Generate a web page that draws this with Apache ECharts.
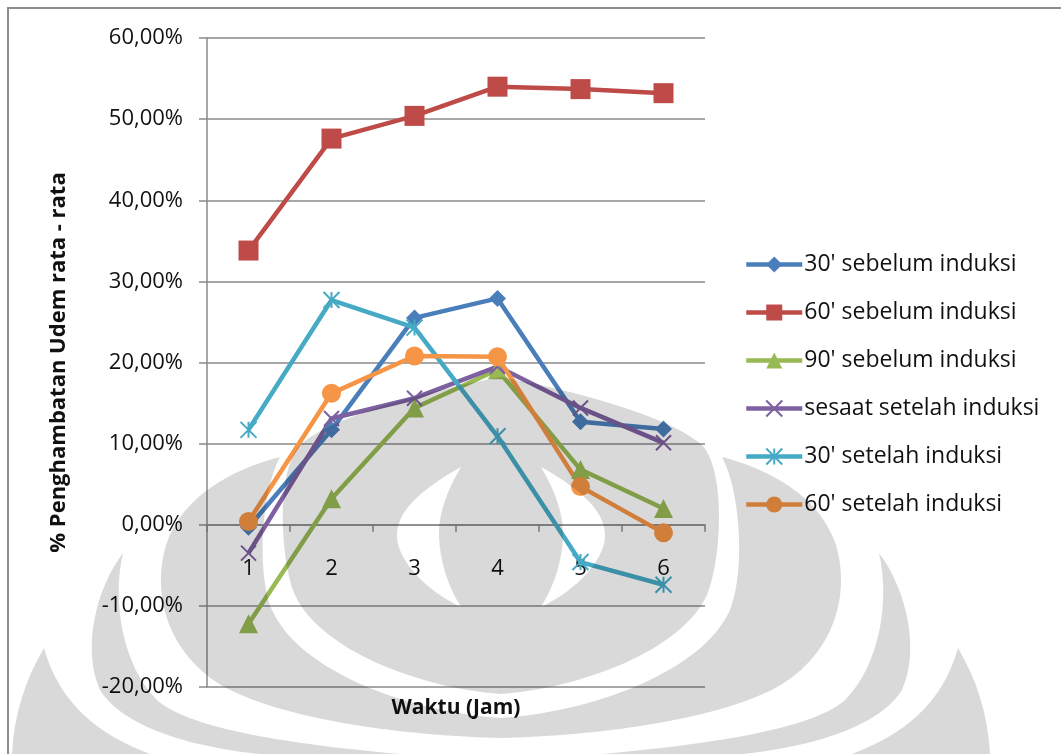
<!DOCTYPE html>
<html>
<head>
<meta charset="utf-8">
<script src="https://cdn.jsdelivr.net/npm/echarts@6/dist/echarts.min.js"></script>
<style>
  html, body { margin: 0; padding: 0; background: #fff; }
  #chart { width: 1061px; height: 754px; }
</style>
</head>
<body>
<div id="chart"></div>
<script>
// Hours after induction (x axis categories)
const hours = ['1', '2', '3', '4', '5', '6'];

// Mean oedema inhibition (%) per group
const sebelum30 = [-0.3, 11.7, 25.5, 27.9, 12.7, 11.8];
const sebelum60 = [33.8, 47.6, 50.4, 54.0, 53.7, 53.2];
const sebelum90 = [-12.2, 3.2, 14.4, 19.1, 6.8, 2.0];
const sesaatSetelah = [-3.5, 13.1, 15.6, 19.5, 14.4, 10.1];
const setelah30 = [11.7, 27.7, 24.3, 10.9, -4.6, -7.4];
const setelah60 = [0.4, 16.2, 20.8, 20.7, 4.7, -1.0];

const seriesNames = [
  "30' sebelum induksi",
  "60' sebelum induksi",
  "90' sebelum induksi",
  "sesaat setelah induksi",
  "30' setelah induksi",
  "60' setelah induksi"
];

// y axis range (percent)
const yMin = -20, yMax = 60, yStep = 10;

// plot area
const GRID = { left: 207, top: 38, width: 498, height: 649 };
// the category axis crosses the value axis at 0
const xAxisOffset = -GRID.height * (0 - yMin) / (yMax - yMin);

const FONT = '"Open Sans", "Noto Sans", sans-serif';
const CROSS = 'path://M0,0L10,10M10,0L0,10';
const STAR = 'path://M0,0L10,10M10,0L0,10M5,0L5,10';

function lineSeries(name, data, color, symbol, size, hollow) {
  return {
    name: name,
    type: 'line',
    data: data,
    symbol: symbol,
    symbolSize: size,
    showAllSymbol: true,
    lineStyle: { color: color, width: 4.5 },
    itemStyle: hollow
      ? { color: 'rgba(0,0,0,0)', borderColor: color, borderWidth: 2 }
      : { color: color, borderWidth: 0 },
    emphasis: { disabled: true },
    animation: false
  };
}

// Faint emblem drawn over the plot as a translucent grey layer
const shade = 'rgba(0,0,0,0.15)';
const emblem = [
  // central body with the two eye crescents cut out
  'M501,377 C420,392 330,418 300,445 C276,470 280,560 295,595 C320,650 420,688 501,694 ' +
  'C582,688 682,650 707,595 C722,560 726,470 702,445 C672,418 582,392 501,377 Z ' +
  'M461,467 C447,490 438,515 439,537 C440,560 447,585 461,607 C425,590 398,560 397,537 C396,512 420,490 461,467 Z ' +
  'M541,467 C582,490 606,512 605,537 C604,560 577,590 541,607 C555,585 562,560 563,537 C564,515 555,490 541,467 Z',
  // surrounding ring with wings
  'M280,457 C230,470 182,497 166,545 C150,600 172,660 230,690 C300,724 420,736 501,738 ' +
  'C582,736 702,724 772,690 C830,660 852,600 836,545 C820,497 772,470 722,457 ' +
  'C740,490 746,570 730,610 C702,672 592,712 501,718 C410,712 300,672 272,610 C256,570 262,490 280,457 Z',
  // tusks
  'M123,553 C95,590 82,650 100,690 C125,730 200,748 260,754 L400,754 C300,745 190,730 157,700 C122,665 112,600 123,553 Z',
  'M879,553 C907,590 920,650 902,690 C877,730 802,748 742,754 L602,754 C702,745 812,730 845,700 C880,665 890,600 879,553 Z',
  // outer wings
  'M44,648 C25,680 14,715 12,754 L150,754 C100,735 60,705 44,648 Z',
  'M958,648 C977,680 988,715 990,754 L852,754 C902,735 942,705 958,648 Z'
];

emblem.forEach(function (d, i) {
  echarts.graphic.registerShape('emblemPart' + i, echarts.graphic.extendPath(d, {}));
});

const chart = echarts.init(document.getElementById('chart'), null, { renderer: 'canvas' });

const graphics = [
  {
    type: 'rect',
    silent: true,
    z: 1,
    shape: { x: 8, y: 8, width: 1100, height: 800 },
    style: { fill: 'none', stroke: '#8d8d8d', lineWidth: 2 }
  },
  {
    type: 'text',
    silent: true,
    z: 5,
    x: 456,
    y: 708,
    style: {
      text: 'Waktu (Jam)',
      font: 'bold 21px ' + FONT,
      fill: '#111',
      align: 'center',
      verticalAlign: 'middle'
    }
  }
].concat(emblem.map(function (d, i) {
  return {
    type: 'emblemPart' + i,
    silent: true,
    z: 100,
    style: { fill: shade, stroke: 'none' }
  };
}));

chart.setOption({
  backgroundColor: '#ffffff',
  animation: false,
  textStyle: { fontFamily: FONT },
  grid: { left: GRID.left, top: GRID.top, width: GRID.width, height: GRID.height, containLabel: false },
  legend: {
    orient: 'vertical',
    left: 744,
    top: 252,
    padding: 0,
    itemWidth: 56,
    itemHeight: 20,
    itemGap: 23,
    selectedMode: false,
    lineStyle: { width: 4.5 },
    textStyle: { fontFamily: FONT, fontSize: 23, color: '#111', lineHeight: 25, padding: [0, 0, 0, -3] },
    data: seriesNames
  },
  xAxis: {
    type: 'category',
    data: hours,
    boundaryGap: true,
    position: 'bottom',
    offset: xAxisOffset,
    axisLine: { show: true, onZero: false, lineStyle: { color: '#8a8a8a', width: 1.5 } },
    axisTick: { show: true, inside: false, length: 7, lineStyle: { color: '#8a8a8a', width: 1.5 } },
    axisLabel: { margin: 33, fontSize: 22, color: '#111', fontFamily: FONT },
    splitLine: { show: false }
  },
  yAxis: {
    type: 'value',
    min: yMin,
    max: yMax,
    interval: yStep,
    name: '% Penghambatan Udem rata - rata',
    nameLocation: 'middle',
    nameGap: 137,
    nameTextStyle: { fontWeight: 'bold', fontSize: 22, color: '#111', fontFamily: FONT },
    axisLine: { show: true, lineStyle: { color: '#8a8a8a', width: 1.5 } },
    axisTick: { show: true, inside: false, length: 8, lineStyle: { color: '#8a8a8a', width: 1.5 } },
    axisLabel: {
      margin: 24,
      fontSize: 22,
      color: '#111',
      fontFamily: FONT,
      formatter: function (v) { return v.toFixed(2).replace('.', ',') + '%'; }
    },
    splitLine: { show: true, lineStyle: { color: '#8a8a8a', width: 1.5 } }
  },
  graphic: graphics,
  series: [
    lineSeries(seriesNames[0], sebelum30, '#4A7EBB', 'diamond', 17, false),
    lineSeries(seriesNames[1], sebelum60, '#BE4B48', 'rect', 20, false),
    lineSeries(seriesNames[2], sebelum90, '#98B954', 'triangle', 19, false),
    lineSeries(seriesNames[3], sesaatSetelah, '#7D60A0', CROSS, 15, true),
    lineSeries(seriesNames[4], setelah30, '#46AAC5', STAR, 16, true),
    lineSeries(seriesNames[5], setelah60, '#F69546', 'circle', 19, false)
  ]
});
</script>
</body>
</html>
